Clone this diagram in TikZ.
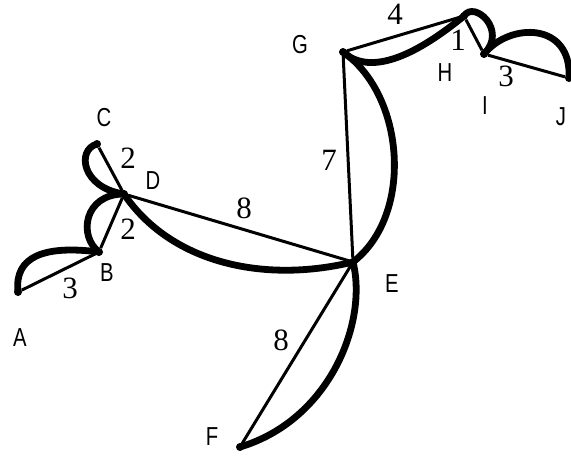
\documentclass[tikz,border=0pt]{standalone}
\usepackage{fontspec}
\setmainfont{Liberation Serif}
\newfontfamily\labelfont{Liberation Sans}
\tikzset{vertex/.style={circle, fill, inner sep=0pt, minimum size=8pt}}
\tikzset{edge/.style={line width=3pt}}
\tikzset{curvy/.style={line width=6.8pt, line cap=round}}
\tikzset{vname/.style={font={\labelfont\fontsize{26}{26}\selectfont}, inner sep=0pt}}
\tikzset{weight/.style={font=\fontsize{31}{31}\selectfont, inner sep=0pt}}
\newcommand{\narrow}[1]{\scalebox{0.78}[1]{#1}}

\begin{document}
\begin{tikzpicture}[x=1pt, y=-1pt]
\useasboundingbox (0, 0) rectangle (571, 461);
% vertices
\node[vertex] (A) at (18, 292) {};
\node[vertex] (B) at (99, 252) {};
\node[vertex] (C) at (97, 144) {};
\node[vertex] (D) at (124, 194) {};
\node[vertex] (E) at (353, 262) {};
\node[vertex] (F) at (240, 447) {};
\node[vertex] (G) at (343, 52) {};
\node[vertex] (H) at (464, 16) {};
\node[vertex] (I) at (484, 54) {};
\node[vertex] (J) at (569, 78) {};
% vertex names
\node[vname] (nA) at (20, 338) {\narrow{A}};
\node[vname] (nB) at (107, 273) {\narrow{B}};
\node[vname] (nC) at (104, 118) {\narrow{C}};
\node[vname] (nD) at (153, 181) {\narrow{D}};
\node[vname] (nE) at (392, 284) {\narrow{E}};
\node[vname] (nF) at (212, 437) {\narrow{F}};
\node[vname] (nG) at (300, 45) {\narrow{G}};
\node[vname] (nH) at (445, 73) {\narrow{H}};
\node[vname] (nI) at (485, 106) {\narrow{I}};
\node[vname] (nJ) at (561, 117) {\narrow{J}};
% straight edges
\draw[edge] (A) -- (B);
\draw[edge] (B) -- (D);
\draw[edge] (C) -- (D);
\draw[edge] (D) -- (E);
\draw[edge] (G) -- (E);
\draw[edge] (E) -- (F);
\draw[edge] (G) -- (H);
\draw[edge] (H) -- (I);
\draw[edge] (I) -- (J);
% curved edges
\draw[curvy] (A.center) .. controls (14, 256) and (45, 245) .. (B.center);
\draw[curvy] (B.center) .. controls (78, 236) and (84, 194) .. (D.center);
\draw[curvy] (C.center) .. controls (76, 150) and (82, 188) .. (D.center);
\draw[curvy] (D.center) .. controls (170, 262) and (262, 284) .. (E.center);
\draw[curvy] (G.center) .. controls (405, 95) and (414, 215) .. (E.center);
\draw[curvy] (E.center) .. controls (368, 322) and (330, 420) .. (F.center);
\draw[curvy] (G.center) .. controls (372, 78) and (420, 52) .. (H.center);
\draw[curvy] (H.center) .. controls (474, 0) and (508, 30) .. (I.center);
\draw[curvy] (I.center) .. controls (510, 22) and (572, 22) .. (J.center);
% weights
\node[weight] (wAB) at (70, 288) {3};
\node[weight] (wCD) at (128, 158) {2};
\node[weight] (wBD) at (128, 229) {2};
\node[weight] (wDE) at (244, 208) {8};
\node[weight] (wEG) at (329, 160) {7};
\node[weight] (wEF) at (281, 340) {8};
\node[weight] (wGH) at (395, 14) {4};
\node[weight] (wHI) at (458, 40) {1};
\node[weight] (wIJ) at (506, 76) {3};
\end{tikzpicture}
\end{document}
